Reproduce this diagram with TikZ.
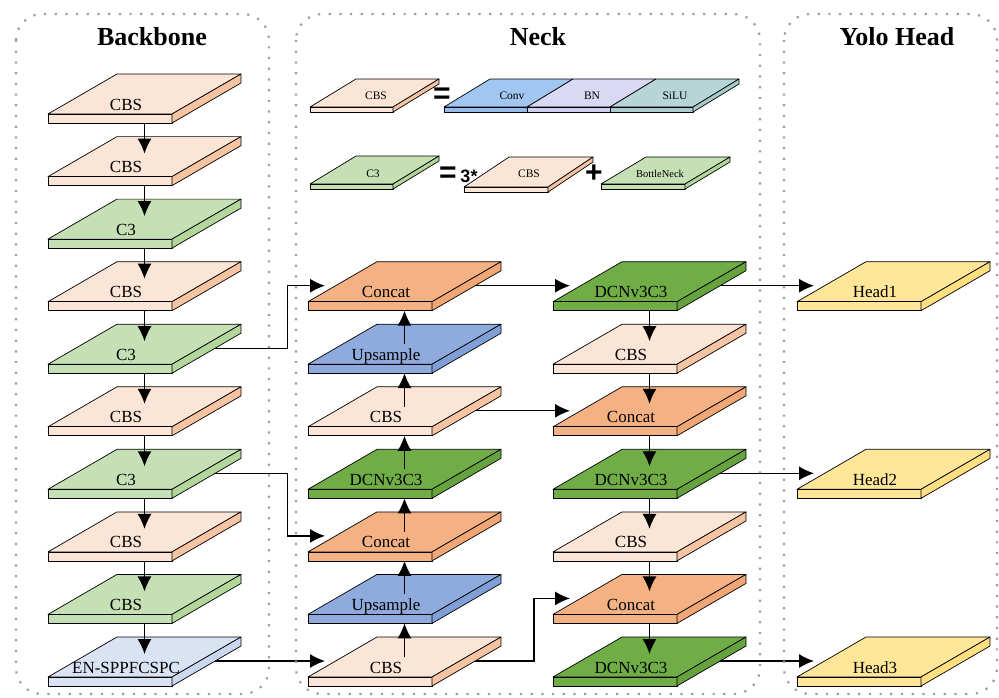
\documentclass[tikz,border=0pt]{standalone}
\usepackage{fontspec}
\setmainfont{Liberation Serif}
\newfontfamily\symfont{Liberation Sans}
\usetikzlibrary{arrows.meta}
\pgfdeclarelayer{bg}
\pgfsetlayers{bg,main}
\definecolor{cbsT}{HTML}{FBE5D6}\definecolor{cbsS}{HTML}{F6C4A2}
\definecolor{c3T}{HTML}{C5E0B4}\definecolor{c3S}{HTML}{B2D69B}
\definecolor{catT}{HTML}{F4B183}\definecolor{catS}{HTML}{F0A675}
\definecolor{upT}{HTML}{8FAADC}\definecolor{upS}{HTML}{819FD7}
\definecolor{dcnT}{HTML}{70AD47}\definecolor{dcnS}{HTML}{66A23E}
\definecolor{hdT}{HTML}{FFE699}\definecolor{hdS}{HTML}{FFDF80}
\definecolor{enT}{HTML}{DAE3F3}\definecolor{enS}{HTML}{CCD8EF}
\definecolor{convT}{HTML}{A2C6F2}\definecolor{convF}{HTML}{93BBEC}
\definecolor{bnT}{HTML}{D9D9F3}\definecolor{bnF}{HTML}{CECEEE}
\definecolor{siluT}{HTML}{B7D4D7}\definecolor{siluF}{HTML}{A9CBCE}
\definecolor{frameC}{HTML}{9E9E9E}
\tikzset{
  edge/.style={draw=black,line width=0.7pt,line join=round},
  lbl/.style={inner sep=0pt,anchor=base,font=\fontsize{17}{17}\selectfont},
  slbl/.style={inner sep=0pt,anchor=base,font=\fontsize{11.5}{11.5}\selectfont},
  ttl/.style={inner sep=0pt,anchor=base,font=\fontsize{26}{26}\selectfont\bfseries},
  sym/.style={inner sep=0pt,font=\symfont\fontsize{30}{30}\selectfont\bfseries},
  arr/.style={line width=1.3pt,-{Latex[length=15pt,width=14pt]}},
  frame/.style={draw=frameC,line width=2.2pt,dash pattern=on 2.2pt off 8.5pt,rounded corners=26pt}
}
% name, x, yf, top colour, side colour, label
\newcommand\myslab[6]{%
  \filldraw[edge,fill=#4] (#2,#3) -- ++(124,0) -- ++(69,-40) -- ++(-124,0) -- cycle;
  \filldraw[edge,fill=#4] (#2,#3) rectangle ++(124,9);
  \filldraw[edge,fill=#5] (#2+124,#3) -- ++(69,-40) -- ++(0,9) -- ++(-69,40) -- cycle;
  \node[lbl] (#1) at (#2+78,#3-4) {#6};
  \coordinate (#1-top) at (#2+96.5,#3-20);
  \coordinate (#1-bot) at (#2+96.5,#3+9);
  \coordinate (#1-in) at (#2+96.5,#3-23);
  \coordinate (#1-mid) at (#2+96.5,#3-16);
  \coordinate (#1-w) at (#2+17,#3-16);
}
% x, yf, w, dx, dy, t, top, side
\newcommand\smallslab[8]{%
  \filldraw[edge,fill=#7] (#1,#2) -- ++(#3,0) -- ++(#4,-#5) -- ++(-#3,0) -- cycle;
  \filldraw[edge,fill=#7] (#1,#2) rectangle ++(#3,#6);
  \filldraw[edge,fill=#8] (#1+#3,#2) -- ++(#4,-#5) -- ++(0,#6) -- ++(-#4,#5) -- cycle;
}
\begin{document}
\begin{tikzpicture}[x=1pt,y=-1pt]
\useasboundingbox (0,0) rectangle (999,697);
% frames
\draw[frame] (16,14) rectangle (269,694);
\draw[frame] (296,14) rectangle (760,694);
\draw[frame] (784,14) rectangle (997,694);
\node[ttl] (tb) at (152,45) {Backbone};
\node[ttl] (tn) at (538,45) {Neck};
\node[ttl] (th) at (897,45) {Yolo Head};
% legend
\smallslab{310}{107}{83}{46}{28}{5}{cbsT}{cbsS}
\node[slbl] (lcbs) at (376,99.5) {CBS};
\node[sym] (leq1) at (442,96) {=};
\filldraw[edge,fill=convT] (444,107) -- ++(83,0) -- ++(46,-28) -- ++(-83,0) -- cycle;
\filldraw[edge,fill=convF] (444,107) rectangle ++(83,5);
\filldraw[edge,fill=bnT] (527,107) -- ++(83,0) -- ++(46,-28) -- ++(-83,0) -- cycle;
\filldraw[edge,fill=bnF] (527,107) rectangle ++(83,5);
\filldraw[edge,fill=siluT] (610,107) -- ++(83,0) -- ++(46,-28) -- ++(-83,0) -- cycle;
\filldraw[edge,fill=siluF] (610,107) rectangle ++(83,5);
\filldraw[edge,fill=siluF] (693,107) -- ++(46,-28) -- ++(0,5) -- ++(-46,28) -- cycle;
\node[slbl] (lconv) at (512,99) {Conv};
\node[slbl] (lbn) at (592,99) {BN};
\node[slbl] (lsilu) at (675,99) {SiLU};
\smallslab{310}{184}{83}{46}{28}{5}{c3T}{c3S}
\node[slbl] (lc3) at (373,177) {C3};
\node[sym] (leq2) at (448,175) {=};
\node[inner sep=0pt,font=\symfont\fontsize{18}{18}\selectfont\bfseries] (lthree) at (469,176) {3*};
\smallslab{464}{187}{84}{45}{30}{5}{cbsT}{cbsS}
\node[slbl] (lcbs2) at (529,177) {CBS};
\node[sym] (lplus) at (594,174) {+};
\smallslab{601}{184}{84}{45}{27}{5}{c3T}{c3S}
\node[inner sep=0pt,anchor=base,font=\fontsize{10.5}{10.5}\selectfont] (lbn2) at (660,177) {BottleNeck};
% backbone
\myslab{b0}{48}{114.0}{cbsT}{cbsS}{CBS}
\myslab{b1}{48}{176.6}{cbsT}{cbsS}{CBS}
\myslab{b2}{48}{239.1}{c3T}{c3S}{C3}
\myslab{b3}{48}{301.7}{cbsT}{cbsS}{CBS}
\myslab{b4}{48}{364.2}{c3T}{c3S}{C3}
\myslab{b5}{48}{426.8}{cbsT}{cbsS}{CBS}
\myslab{b6}{48}{489.3}{c3T}{c3S}{C3}
\myslab{b7}{48}{551.9}{cbsT}{cbsS}{CBS}
\myslab{b8}{48}{614.4}{c3T}{c3S}{CBS}
\myslab{b9}{48}{677.0}{enT}{enS}{EN-SPPFCSPC}
% neck
\myslab{n3}{308}{301.7}{catT}{catS}{Concat}
\myslab{n4}{308}{364.2}{upT}{upS}{Upsample}
\myslab{n5}{308}{426.8}{cbsT}{cbsS}{CBS}
\myslab{n6}{308}{489.3}{dcnT}{dcnS}{DCNv3C3}
\myslab{n7}{308}{551.9}{catT}{catS}{Concat}
\myslab{n8}{308}{614.4}{upT}{upS}{Upsample}
\myslab{n9}{308}{677.0}{cbsT}{cbsS}{CBS}
% third column
\myslab{t3}{553}{301.7}{dcnT}{dcnS}{DCNv3C3}
\myslab{t4}{553}{364.2}{cbsT}{cbsS}{CBS}
\myslab{t5}{553}{426.8}{catT}{catS}{Concat}
\myslab{t6}{553}{489.3}{dcnT}{dcnS}{DCNv3C3}
\myslab{t7}{553}{551.9}{cbsT}{cbsS}{CBS}
\myslab{t8}{553}{614.4}{catT}{catS}{Concat}
\myslab{t9}{553}{677.0}{dcnT}{dcnS}{DCNv3C3}
% heads
\myslab{h3}{797}{301.7}{hdT}{hdS}{Head1}
\myslab{h6}{797}{489.3}{hdT}{hdS}{Head2}
\myslab{h9}{797}{677.0}{hdT}{hdS}{Head3}
% horizontal connectors behind slabs
\begin{pgfonlayer}{bg}
\draw[arr] (b4-mid) -- ++(143,0) |- (n3-w);
\draw[arr] (b6-mid) -- ++(143,0) |- (n7-w);
\draw[arr] (b9-mid) -- (n9-w);
\draw[arr] (n3-mid) -- (t3-w);
\draw[arr] (n5-mid) -- (t5-w);
\draw[arr] (n9-mid) -- ++(129.5,0) |- (t8-w);
\draw[arr] (t3-mid) -- (h3-w);
\draw[arr] (t6-mid) -- (h6-w);
\draw[arr] (t9-mid) -- (h9-w);
\end{pgfonlayer}
% vertical arrows
\foreach \a/\b in {b0/b1,b1/b2,b2/b3,b3/b4,b4/b5,b5/b6,b6/b7,b7/b8,b8/b9,
                   t3/t4,t4/t5,t5/t6,t6/t7,t7/t8,t8/t9}
  \draw[arr] (\a-bot) -- (\b-in);
\foreach \a/\b in {n9/n8,n8/n7,n7/n6,n6/n5,n5/n4,n4/n3}
  \draw[arr] (\a-top) -- (\b-bot);
\end{tikzpicture}
\end{document}
